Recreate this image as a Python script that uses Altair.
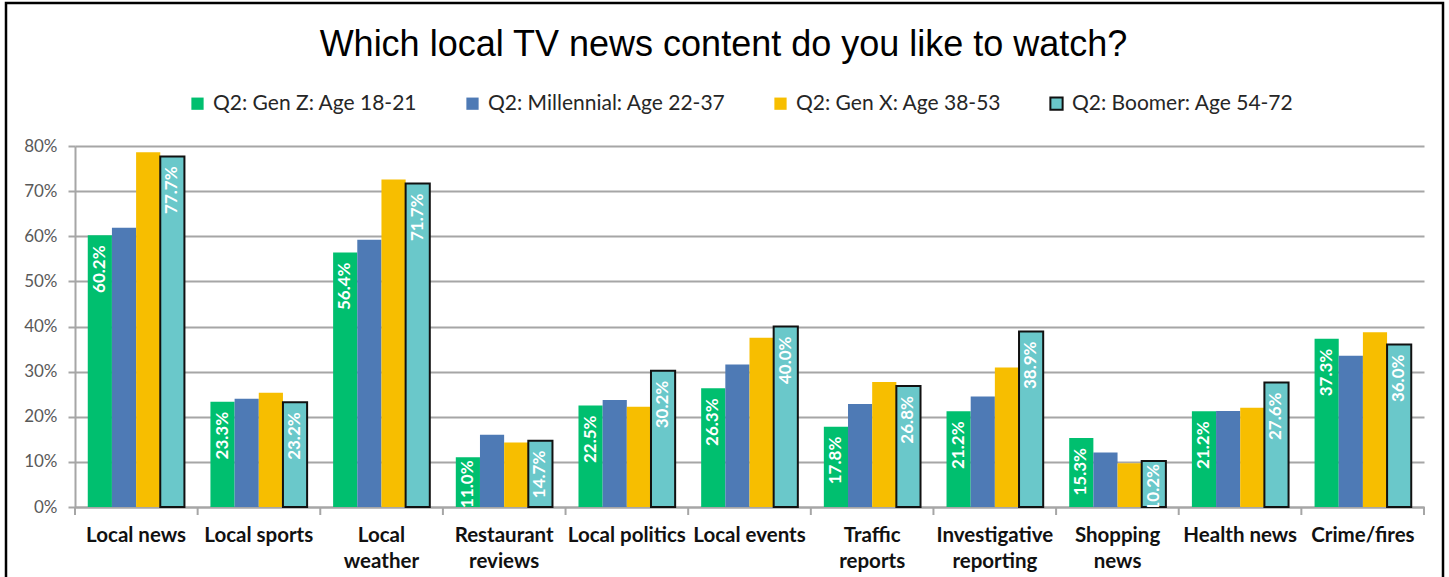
import altair as alt
import pandas as pd

categories = ["Local news", "Local sports", "Local weather", "Restaurant reviews",
              "Local politics", "Local events", "Traffic reports",
              "Investigative reporting", "Shopping news", "Health news", "Crime/fires"]
series = ["Q2: Gen Z: Age 18-21", "Q2: Millennial: Age 22-37",
          "Q2: Gen X: Age 38-53", "Q2: Boomer: Age 54-72"]
gen_z = [60.2, 23.3, 56.4, 11.0, 22.5, 26.3, 17.8, 21.2, 15.3, 21.2, 37.3]
millennial = [61.9, 24.0, 59.2, 16.0, 23.7, 31.6, 22.8, 24.5, 12.1, 21.3, 33.5]
gen_x = [78.6, 25.3, 72.6, 14.3, 22.2, 37.5, 27.7, 30.9, 9.7, 22.0, 38.7]
boomer = [77.7, 23.2, 71.7, 14.7, 30.2, 40.0, 26.8, 38.9, 10.2, 27.6, 36.0]
labelled = [series[0], series[3]]
y_ticks = [0, 10, 20, 30, 40, 50, 60, 70, 80]
wrapped = ["Local weather", "Restaurant reviews", "Traffic reports",
           "Investigative reporting", "Shopping news"]

colors = ["#00BF6F", "#4E7AB5", "#F7BE00", "#6AC8CA"]
strokes = ["transparent", "transparent", "transparent", "#111111"]
FONT = "Lato"

rows = []
for s, vals in zip(series, [gen_z, millennial, gen_x, boomer]):
    for c, v in zip(categories, vals):
        rows.append({"category": c, "series": s, "value": v})
df = pd.DataFrame(rows)

W, H = 1349, 361
PL, PT = 75, 146

xscale = alt.Scale(domain=categories, paddingInner=0.212, paddingOuter=0.104)
xoff = alt.XOffset("series:N", sort=series,
                   scale=alt.Scale(domain=series, paddingInner=0, paddingOuter=0))
yscale = alt.Scale(domain=[0, 80], nice=False)

label_expr = ("indexof(" + str(wrapped) + ", datum.value) >= 0 ? "
              "split(datum.value, ' ') : datum.value")

leg = alt.Legend(title=None, orient="none", legendX=112, legendY=-53,
                 direction="horizontal", columns=4, columnPadding=44,
                 symbolType="square", symbolSize=150, symbolStrokeWidth=2,
                 labelFont=FONT, labelFontSize=21, labelColor="#262626",
                 labelOffset=5, labelLimit=400)

bars = alt.Chart(df).mark_bar(strokeWidth=2).encode(
    x=alt.X("category:N", sort=categories, scale=xscale,
            axis=alt.Axis(title=None, labelAngle=0, labelFont=FONT,
                          labelFontSize=20.5, labelFontWeight="bold",
                          labelColor="#111111", labelExpr=label_expr,
                          labelLineHeight=26, labelPadding=18, ticks=False,
                          domainColor="#A6A6A6", domainWidth=2, labelLimit=300)),
    xOffset=xoff,
    y=alt.Y("value:Q", scale=yscale,
            axis=alt.Axis(title=None, values=y_ticks, labelExpr="datum.value + '%'",
                          labelFont=FONT, labelFontSize=17, labelColor="#595959",
                          tickSize=7, tickColor="#A6A6A6", tickWidth=2,
                          labelPadding=11, domainColor="#A6A6A6", domainWidth=2,
                          grid=True, gridColor="#A6A6A6", gridWidth=2)),
    fill=alt.Fill("series:N", sort=series,
                  scale=alt.Scale(domain=series, range=colors), legend=leg),
    stroke=alt.Stroke("series:N", sort=series,
                      scale=alt.Scale(domain=series, range=strokes), legend=leg),
)

base_labels = alt.Chart(df).transform_filter(
    alt.FieldOneOfPredicate(field="series", oneOf=labelled)
).transform_calculate(
    txt="format(datum.value, '.1f') + '%'"
)
label_enc = dict(
    x=alt.X("category:N", sort=categories, scale=xscale, axis=None),
    xOffset=xoff,
    y=alt.Y("value:Q", scale=yscale),
    text="txt:N",
)
text_style = dict(angle=270, align="right", baseline="middle", color="white",
                  font=FONT, fontSize=17, fontWeight="bold", clip=True)
labels_tall = base_labels.transform_filter("datum.value >= 13").mark_text(
    dx=-10, **text_style).encode(**label_enc)
labels_short = base_labels.transform_filter("datum.value < 13").mark_text(
    dx=-3, **text_style).encode(**label_enc)

bounds = pd.DataFrame({"b": list(range(len(categories) + 1))})
ticks = alt.Chart(bounds).mark_rule(color="#A6A6A6", strokeWidth=2).encode(
    x=alt.X("b:Q", scale=alt.Scale(domain=[0, len(categories)], nice=False), axis=None),
    y=alt.value(H),
    y2=alt.value(H + 8),
)

frame = alt.Chart(pd.DataFrame({"k": [0]})).mark_rect(
    fill="transparent", stroke="#000000", strokeWidth=2.5).encode(
    x=alt.value(6 - PL), x2=alt.value(1443 - PL),
    y=alt.value(3 - PT), y2=alt.value(620 - PT),
)

chart = alt.layer(bars, labels_tall, labels_short, ticks, frame).resolve_scale(
    x="independent").properties(
    width=W, height=H,
    title=alt.TitleParams("Which local TV news content do you like to watch?",
                          font="Liberation Sans", fontSize=36, fontWeight="normal",
                          color="#000000", anchor="middle", offset=-98, dx=-26,
                          baseline="bottom"),
    padding={"left": PL, "top": PT, "right": 1449 - PL - W, "bottom": 577 - PT - H},
    autosize=alt.AutoSizeParams(type="none"),
    background="white",
).configure_view(stroke=None)

chart.save("out.html", embed_options={"renderer": "svg", "actions": False})
